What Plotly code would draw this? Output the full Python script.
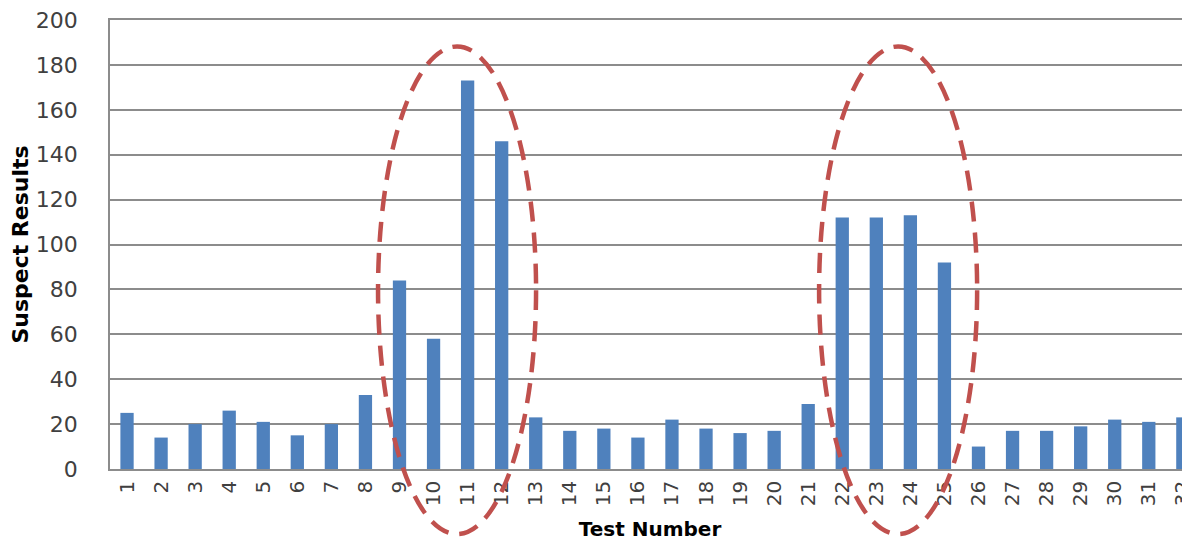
import plotly.graph_objects as go

# ---- data ----
test_numbers = list(range(1, 33))
suspect_results = [25, 14, 20, 26, 21, 15, 20, 33, 84, 58, 173, 146, 23, 17, 18, 14,
                   22, 18, 16, 17, 29, 112, 112, 113, 92, 10, 17, 17, 19, 22, 21, 23]
y_ticks = [0, 20, 40, 60, 80, 100, 120, 140, 160, 180, 200]
x_title = "Test Number"
y_title = "Suspect Results"

# ---- layout constants (page body has an 8px margin) ----
W, H = 1182, 534
ML, MR, MT, MB = 102, 0, 12, 73
X_RANGE = [0.5, 32.21]
Y_RANGE = [0, 200]

# highlighted groups (in data units: x span in test numbers, y span in results)
highlights = [
    dict(x0=8.37, x1=13.01, y0=-29, y1=188.2),
    dict(x0=21.32, x1=25.96, y0=-29, y1=188.2),
]


def to_paper_x(v):
    return (v - X_RANGE[0]) / (X_RANGE[1] - X_RANGE[0])


def to_paper_y(v):
    return (v - Y_RANGE[0]) / (Y_RANGE[1] - Y_RANGE[0])


fig = go.Figure(
    go.Bar(
        x=test_numbers,
        y=suspect_results,
        width=0.39,
        marker=dict(color="#4f81bd", line=dict(width=0)),
    )
)

shapes = []
for h in highlights:
    shapes.append(dict(
        type="circle", xref="paper", yref="paper",
        x0=to_paper_x(h["x0"]), x1=to_paper_x(h["x1"]),
        y0=to_paper_y(h["y0"]), y1=to_paper_y(h["y1"]),
        line=dict(color="#c0504d", width=4.5, dash="20px,11px"),
        fillcolor="rgba(0,0,0,0)",
        layer="above",
    ))

fig.update_layout(
    width=W, height=H,
    margin=dict(l=ML, r=MR, t=MT, b=MB, pad=0, autoexpand=False),
    paper_bgcolor="white", plot_bgcolor="white",
    showlegend=False,
    bargap=0.6,
    shapes=shapes,
    font=dict(family="DejaVu Sans", color="#404040"),
)

fig.update_xaxes(
    range=X_RANGE,
    automargin=False,
    tickmode="array",
    tickvals=test_numbers,
    ticktext=[str(t) for t in test_numbers],
    tickangle=-90,
    tickfont=dict(family="DejaVu Sans", size=20, color="#404040"),
    ticklabeloverflow="allow",
    showgrid=False,
    showline=True, mirror=True, linecolor="#8c8c8c", linewidth=1.5,
    ticks="", ticklabelstandoff=2,
    title=dict(text=x_title, font=dict(family="DejaVu Sans", size=20, color="black", weight="bold"),
               standoff=17),
    zeroline=False,
)

fig.update_yaxes(
    range=Y_RANGE,
    automargin=False,
    tickmode="array",
    tickvals=y_ticks,
    tickfont=dict(family="DejaVu Sans", size=22, color="#404040"),
    ticklabeloverflow="allow",
    showgrid=True, gridcolor="#8c8c8c", gridwidth=1.5,
    showline=True, linecolor="#8c8c8c", linewidth=1.5,
    ticks="", ticklabelstandoff=26,
    zeroline=False,
    title=dict(text=y_title, font=dict(family="DejaVu Sans", size=22, color="black", weight="bold"),
               standoff=8),
)

fig.write_html("out.html")
